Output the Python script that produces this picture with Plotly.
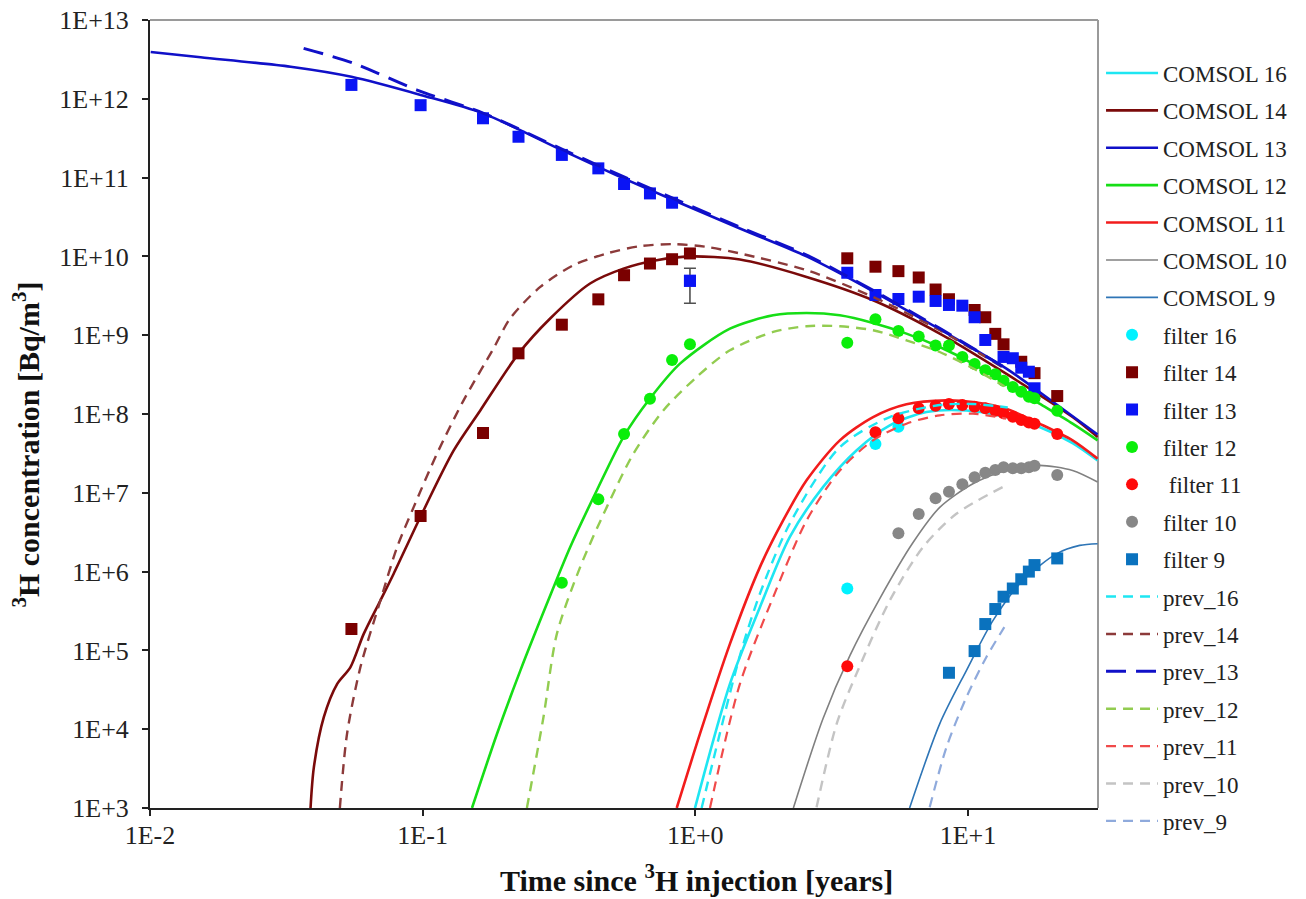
import plotly.graph_objects as go

# ---------------- measured 3H concentrations in the filters [Bq/m3] ----------------
t_filter16 = [3.61, 4.58, 5.56]
c_filter16 = [6.1e5, 4.16e7, 6.9e7]

t_filter14 = [0.0548, 0.0983, 0.1665, 0.2247, 0.324, 0.441, 0.548, 0.682, 0.822, 0.956,
              3.61, 4.58, 5.56, 6.60, 7.61, 8.52, 10.58, 11.58, 12.60, 13.51, 15.69, 17.55, 21.26]
c_filter14 = [1.87e5, 5.08e6, 5.74e7, 5.89e8, 1.36e9, 2.85e9, 5.77e9, 8.12e9, 9.21e9, 1.09e10,
              9.46e9, 7.4e9, 6.5e9, 5.4e9, 3.8e9, 2.86e9, 2.09e9, 1.69e9, 1.04e9, 7.66e8, 4.6e8, 3.3e8, 1.69e8]

t_filter13 = [0.0548, 0.0983, 0.1665, 0.2247, 0.324, 0.441, 0.548, 0.682, 0.822, 0.956,
              3.61, 4.58, 5.56, 6.60, 7.61, 8.52, 9.54, 10.58, 11.58, 13.51, 14.61, 15.69, 16.73, 17.55]
c_filter13 = [1.50e12, 8.3e11, 5.66e11, 3.3e11, 1.94e11, 1.31e11, 8.3e10, 6.3e10, 4.8e10, 4.9e9,
              6.2e9, 3.24e9, 2.88e9, 3.08e9, 2.72e9, 2.42e9, 2.37e9, 1.69e9, 8.7e8, 5.3e8, 5.1e8, 3.87e8, 3.44e8, 2.12e8]
# uncertainty reported for the filter 13 sample at t = 0.956 y
err13_t = [0.956]
err13_c = [4.9e9]
err13_plus = [2.16e9]
err13_minus = [2.36e9]

t_filter12 = [0.324, 0.441, 0.548, 0.682, 0.822, 0.956,
              3.61, 4.58, 5.56, 6.60, 7.61, 8.52, 9.54, 10.58, 11.58, 12.60, 13.51, 14.61, 15.69, 16.73, 17.55, 21.26]
c_filter12 = [7.2e5, 8.3e6, 5.57e7, 1.56e8, 4.84e8, 7.66e8,
              8.0e8, 1.59e9, 1.13e9, 9.6e8, 7.4e8, 7.4e8, 5.3e8, 4.3e8, 3.6e8, 3.2e8, 2.65e8, 2.2e8, 1.92e8, 1.66e8, 1.58e8, 1.10e8]

t_filter11 = [3.61, 4.58, 5.56, 6.60, 7.61, 8.52, 9.54, 10.58, 11.58, 12.60, 13.51, 14.61, 15.69, 16.73, 17.55, 21.26]
c_filter11 = [6.3e4, 5.86e7, 8.8e7, 1.18e8, 1.27e8, 1.34e8, 1.30e8, 1.24e8, 1.18e8, 1.10e8, 1.02e8, 9.25e7, 8.4e7, 7.8e7, 7.5e7, 5.57e7]

t_filter10 = [5.56, 6.60, 7.61, 8.52, 9.54, 10.58, 11.58, 12.60, 13.51, 14.61, 15.69, 16.73, 17.55, 21.26]
c_filter10 = [3.06e6, 5.4e6, 8.5e6, 1.03e7, 1.28e7, 1.57e7, 1.80e7, 1.95e7, 2.11e7, 2.05e7, 2.05e7, 2.11e7, 2.21e7, 1.68e7]

t_filter9 = [8.52, 10.58, 11.58, 12.60, 13.51, 14.61, 15.69, 16.73, 17.55, 21.26]
c_filter9 = [5.2e4, 9.8e4, 2.16e5, 3.35e5, 4.8e5, 6.1e5, 8.0e5, 1.0e6, 1.21e6, 1.47e6]

# ---------------- COMSOL model curves ----------------
t_comsol16 = [0.9975, 1.34, 1.726, 2.22, 2.94, 3.90, 5.17, 7.04, 9.87, 13.8, 18.3, 24.2, 29.9]
c_comsol16 = [1e3, 3.76e4, 3.53e5, 2.74e6, 1.18e7, 3.45e7, 7.18e7, 1.06e8, 1.11e8, 9.15e7, 6.83e7, 4.28e7, 2.58e7]

t_comsol14 = [0.0388, 0.0399, 0.0434, 0.0486, 0.0543, 0.0608, 0.070, 0.0783, 0.098, 0.13, 0.1627, 0.2247,
              0.2936, 0.4113, 0.545, 0.722, 0.956, 1.458, 2.56, 4.49, 7.88, 13.8, 24.2, 29.9]
c_comsol14 = [1e3, 3.28e3, 1.42e4, 3.76e4, 6.1e4, 1.62e5, 4.3e5, 9.4e5, 4.9e6, 3.45e7, 1.11e8, 5.84e8,
              1.63e9, 4.53e9, 7.0e9, 8.94e9, 1.0e10, 9.13e9, 5.49e9, 2.78e9, 1.05e9, 3.25e8, 9.15e7, 5.1e7]

t_comsol13 = [0.01006, 0.01533, 0.0328, 0.0548, 0.0983, 0.1665, 0.324, 0.545, 1.458, 2.56, 4.49, 7.88, 13.8, 18.3, 29.9]
c_comsol13 = [3.92e12, 3.36e12, 2.55e12, 1.9e12, 1.12e12, 6.53e11, 2.23e11, 9.76e10, 2.26e10, 1.0e10,
              3.61e9, 1.19e9, 3.8e8, 1.9e8, 5.5e7]

t_comsol12 = [0.1517, 0.1873, 0.228, 0.2855, 0.3475, 0.4352, 0.545, 0.682, 0.879, 1.34, 1.93, 2.56, 3.39,
              4.49, 5.95, 7.88, 10.43, 13.8, 18.3, 24.2, 29.9]
c_comsol12 = [1e3, 8.7e3, 5.5e4, 3.9e5, 2.04e6, 1.07e7, 5.1e7, 1.57e8, 4.36e8, 1.21e9, 1.79e9, 1.915e9, 1.79e9,
              1.43e9, 1.048e9, 7.09e8, 4.36e8, 2.43e8, 1.353e8, 7.54e7, 4.63e7]

t_comsol11 = [0.855, 1.04, 1.34, 1.726, 2.10, 2.56, 3.39, 4.49, 5.95, 8.34, 10.43, 13.8, 18.3, 24.2, 29.9]
c_comsol11 = [1e3, 8.7e3, 1.21e5, 1.14e6, 4.46e6, 1.44e7, 4.63e7, 9.15e7, 1.33e8, 1.49e8, 1.42e8, 1.17e8,
              7.54e7, 4.63e7, 2.71e7]

t_comsol10 = [2.29, 2.94, 3.69, 4.75, 6.29, 7.88, 10.43, 13.8, 18.3, 24.2, 29.9]
c_comsol10 = [1.0e3, 1.36e4, 8.6e4, 4.55e5, 2.34e6, 6.52e6, 1.30e7, 1.92e7, 2.23e7, 1.92e7, 1.37e7]

t_comsol9 = [6.11, 7.88, 9.87, 12.35, 15.9, 21.1, 25.7, 29.9]
c_comsol9 = [1.0e3, 1.17e4, 5.55e4, 2.39e5, 7.71e5, 1.68e6, 2.15e6, 2.26e6]

# ---------------- previous model results ----------------
t_prev16 = [1.055, 1.458, 1.726, 2.22, 3.39, 5.17, 7.88, 10.43, 14.0]
c_prev16 = [1e3, 8.6e4, 5.23e5, 4.05e6, 3.8e7, 9.15e7, 1.30e8, 1.34e8, 1.21e8]

t_prev14 = [0.0497, 0.0528, 0.0591, 0.070, 0.0806, 0.0927, 0.1129, 0.1413, 0.182, 0.2096, 0.27, 0.3573,
            0.4736, 0.627, 0.831, 1.101, 1.458, 2.56, 4.49, 7.88, 13.6]
c_prev14 = [1e3, 8.7e3, 6.1e4, 4.3e5, 2.04e6, 6.58e6, 3.14e7, 1.49e8, 6.8e8, 1.64e9, 4.1e9, 7.73e9,
            1.09e10, 1.35e10, 1.43e10, 1.32e10, 1.09e10, 6.68e9, 3.06e9, 1.155e9, 3.8e8]

t_prev13 = [0.0366, 0.0559, 0.0954, 0.1665, 0.324, 0.545, 1.458, 2.56, 4.49, 7.88, 13.6]
c_prev13 = [4.37e12, 2.82e12, 1.29e12, 6.6e11, 2.3e11, 1.03e11, 2.35e10, 1.04e10, 3.7e9, 1.22e9, 3.9e8]

t_prev12 = [0.2412, 0.2774, 0.3107, 0.3782, 0.4736, 0.593, 0.7635, 1.012, 1.34, 1.93, 2.56, 3.39, 4.49,
            5.95, 7.88, 10.43, 13.6]
c_prev12 = [1e3, 1.42e4, 1.62e5, 1.14e6, 6.58e6, 3.14e7, 1.11e8, 2.95e8, 6.43e8, 1.10e9, 1.30e9, 1.30e9,
            1.155e9, 8.62e8, 6.12e8, 3.8e8, 2.25e8]

t_prev11 = [1.132, 1.458, 1.93, 2.56, 3.39, 4.49, 5.95, 7.88, 10.43, 13.8]
c_prev11 = [1e3, 3.76e4, 4.73e5, 4.46e6, 1.92e7, 4.63e7, 7.54e7, 9.61e7, 1.01e8, 8.73e7]

t_prev10 = [2.785, 3.30, 3.90, 5.17, 6.84, 9.07, 13.4]
c_prev10 = [1.02e3, 1.17e4, 5.04e4, 4.3e5, 2.04e6, 5.42e6, 1.18e7]

t_prev9 = [7.24, 8.34, 9.87, 11.68, 13.6]
c_prev9 = [1.02e3, 5.89e3, 2.54e4, 8.18e4, 1.97e5]

# ---------------- axis ticks ----------------
x_tickvals = [0.01, 0.1, 1, 10]
x_ticktext = ["1E-2", "1E-1", "1E+0", "1E+1"]
y_tickvals = [10.0 ** k for k in range(3, 14)]
y_ticktext = ["1E+%d" % k for k in range(3, 14)]

SERIF = "Liberation Serif, Times New Roman, serif"

fig = go.Figure()


def model_line(name, t, c, color, width, dash="solid"):
    fig.add_trace(go.Scatter(
        x=t, y=c, name=name, mode="lines", legendgroup=name,
        line=dict(color=color, width=width, dash=dash, shape="spline", smoothing=0.8),
        hoverinfo="skip"))


def samples(name, t, c, color, symbol, size):
    fig.add_trace(go.Scatter(
        x=t, y=c, name=name, mode="markers", legendgroup=name,
        marker=dict(color=color, symbol=symbol, size=size, line=dict(width=0))))


# COMSOL curves
model_line("COMSOL 16", t_comsol16, c_comsol16, "#1EE6F2", 2.6)
model_line("COMSOL 14", t_comsol14, c_comsol14, "#7A0A0A", 2.6)
model_line("COMSOL 13", t_comsol13, c_comsol13, "#1010C8", 2.6)
model_line("COMSOL 12", t_comsol12, c_comsol12, "#16DE16", 2.6)
model_line("COMSOL 11", t_comsol11, c_comsol11, "#F21C1C", 2.6)
model_line("COMSOL 10", t_comsol10, c_comsol10, "#808080", 1.6)
model_line("COMSOL 9", t_comsol9, c_comsol9, "#2E75B6", 1.6)

# filter measurements
samples("filter 16", t_filter16, c_filter16, "#00F2FF", "circle", 12)
samples("filter 14", t_filter14, c_filter14, "#7A0000", "square", 12)
samples("filter 13", t_filter13, c_filter13, "#0A14F5", "square", 12)
fig.add_trace(go.Scatter(
    x=err13_t, y=err13_c, mode="markers", legendgroup="filter 13", showlegend=False,
    marker=dict(color="#0A14F5", symbol="square", size=12),
    error_y=dict(type="data", array=err13_plus, arrayminus=err13_minus,
                 color="#505050", thickness=1.6, width=6)))
samples("filter 12", t_filter12, c_filter12, "#0AEE0A", "circle", 12)
samples("\u00a0filter 11", t_filter11, c_filter11, "#FF0A0A", "circle", 12)
samples("filter 10", t_filter10, c_filter10, "#878787", "circle", 12)
samples("filter 9", t_filter9, c_filter9, "#0A72BE", "square", 12)

# previous results
model_line("prev_16", t_prev16, c_prev16, "#1EE6F2", 2.4, "10px,7px")
model_line("prev_14", t_prev14, c_prev14, "#8C3A3A", 2.4, "10px,7px")
model_line("prev_13", t_prev13, c_prev13, "#1010C8", 3.0, "20px,10px")
model_line("prev_12", t_prev12, c_prev12, "#92CC50", 2.4, "10px,7px")
model_line("prev_11", t_prev11, c_prev11, "#F04A4A", 2.2, "10px,7px")
model_line("prev_10", t_prev10, c_prev10, "#C4C4C4", 2.4, "10px,7px")
model_line("prev_9", t_prev9, c_prev9, "#8FAADC", 2.2, "10px,7px")

x_range = [-2, 1.4771]
y_range = [3, 13]

common_axis = dict(showgrid=False, zeroline=False, automargin=False)

fig.update_layout(
    width=1306, height=899,
    margin=dict(l=150, r=208, t=20, b=91, autoexpand=False),
    paper_bgcolor="white", plot_bgcolor="white",
    font=dict(family=SERIF, color="#222222"),
    showlegend=True,
    legend=dict(
        x=1.0032, xanchor="left", y=0.960, yanchor="top",
        font=dict(family=SERIF, size=23, color="#222222"),
        tracegroupgap=4.5, maxheight=899, bgcolor="rgba(0,0,0,0)",
        itemwidth=52, traceorder="grouped"),
    xaxis=dict(
        type="log", range=x_range, tickmode="array", tickvals=x_tickvals, ticktext=x_ticktext,
        ticks="outside", ticklen=6, tickwidth=1.6, tickcolor="#222222",
        showline=True, linecolor="#222222", linewidth=2,
        tickfont=dict(family=SERIF, size=26, color="#222222"), ticklabelstandoff=-3,
        **common_axis),
    yaxis=dict(
        type="log", range=y_range, tickmode="array", tickvals=y_tickvals, ticktext=y_ticktext,
        ticks="outside", ticklen=6, tickwidth=1.6, tickcolor="#222222",
        showline=True, linecolor="#222222", linewidth=2,
        tickfont=dict(family=SERIF, size=26, color="#222222"), ticklabelstandoff=8,
        **common_axis),
    # inner half of the crossing tick marks
    xaxis2=dict(
        type="log", range=x_range, overlaying="x", anchor="y", side="bottom",
        tickmode="array", tickvals=x_tickvals, ticks="inside", ticklen=6, tickwidth=1.6,
        tickcolor="#222222", showticklabels=False, showline=False, **common_axis),
    yaxis2=dict(
        type="log", range=y_range, overlaying="y", anchor="x", side="left",
        tickmode="array", tickvals=y_tickvals, ticks="inside", ticklen=6, tickwidth=1.6,
        tickcolor="#222222", showticklabels=False, showline=False, **common_axis),
    shapes=[
        dict(type="line", xref="paper", yref="paper", x0=0, x1=1, y0=1, y1=1,
             line=dict(color="#9A9A9A", width=2), layer="below"),
        dict(type="line", xref="paper", yref="paper", x0=1, x1=1, y0=0, y1=1,
             line=dict(color="#9A9A9A", width=2), layer="below"),
    ],
    annotations=[
        dict(text="<b>Time since <sup>3</sup>H injection [years]</b>", xref="paper", yref="paper",
             x=0.577, y=-0.089, xanchor="center", yanchor="middle", showarrow=False,
             font=dict(family=SERIF, size=30, color="#111111")),
        dict(text="<b><sup>3</sup>H concentration [Bq/m<sup>3</sup>]</b>", xref="paper", yref="paper",
             x=-0.131, y=0.461, xanchor="center", yanchor="middle", textangle=-90, showarrow=False,
             font=dict(family=SERIF, size=30, color="#111111")),
    ],
)

fig.write_html("out.html")
